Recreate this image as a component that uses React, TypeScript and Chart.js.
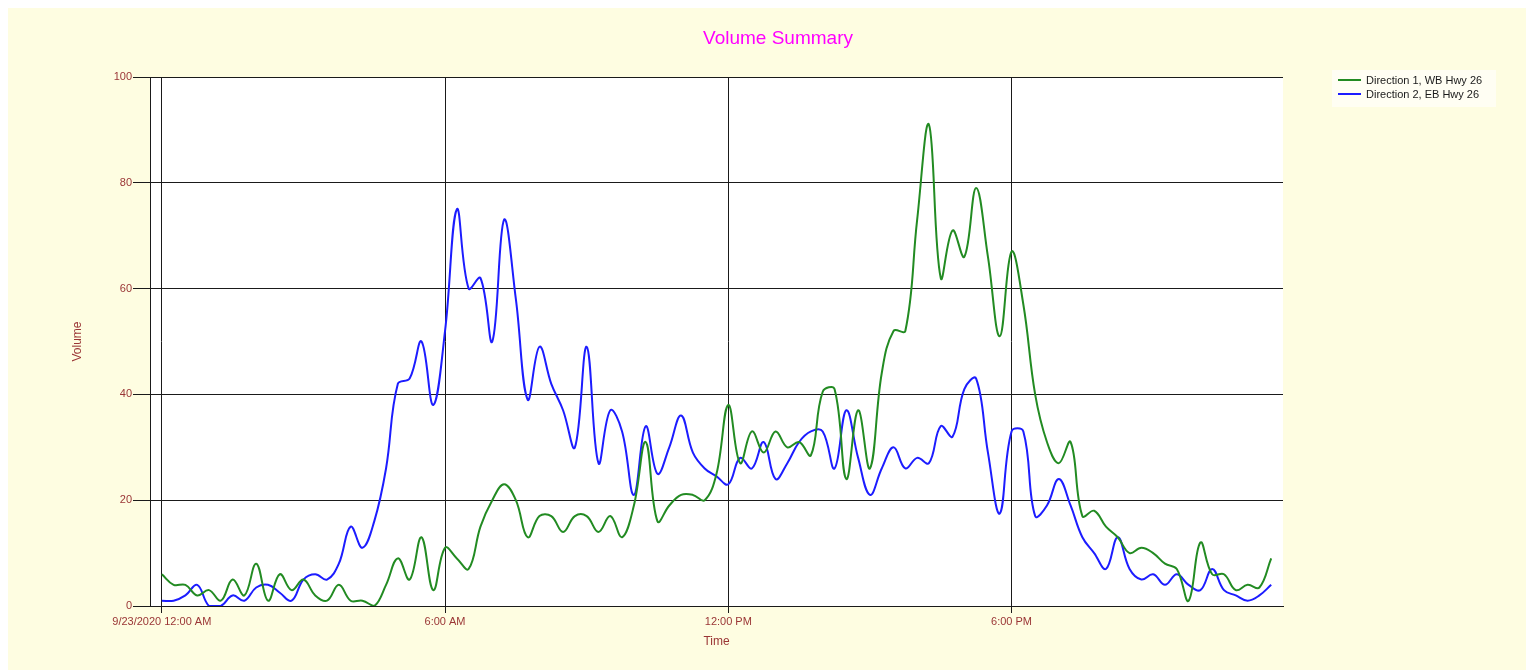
import React, { useEffect, useRef } from "react";
import { Chart, registerables } from "chart.js";

Chart.register(...registerables);

// 15-minute intervals on 9/23/2020
const timeLabels = [
  "00:00","00:15","00:30","00:45","01:00","01:15","01:30","01:45",
  "02:00","02:15","02:30","02:45","03:00","03:15","03:30","03:45",
  "04:00","04:15","04:30","04:45","05:00","05:15","05:30","05:45",
  "06:00","06:15","06:30","06:45","07:00","07:15","07:30","07:45",
  "08:00","08:15","08:30","08:45","09:00","09:15","09:30","09:45",
  "10:00","10:15","10:30","10:45","11:00","11:15","11:30","11:45",
  "12:00","12:15","12:30","12:45","13:00","13:15","13:30","13:45",
  "14:00","14:15","14:30","14:45","15:00","15:15","15:30","15:45",
  "16:00","16:15","16:30","16:45","17:00","17:15","17:30","17:45",
  "18:00","18:15","18:30","18:45","19:00","19:15","19:30","19:45",
  "20:00","20:15","20:30","20:45","21:00","21:15","21:30","21:45",
  "22:00","22:15","22:30","22:45","23:00","23:15","23:30",
];

// Direction 1, WB Hwy 26
const dir1Values = [
  6, 4, 4, 2, 3, 1, 5, 2, 8, 1, 6, 3, 5, 2, 1, 4,
  1, 1, 0, 4, 9, 5, 13, 3, 11, 9, 7, 15, 20, 23, 20, 13,
  17, 17, 14, 17, 17, 14, 17, 13, 19, 31, 16, 19, 21, 21, 20, 25,
  38, 27, 33, 29, 33, 30, 31, 28.5, 40.5, 41, 24, 37, 26, 44, 52, 52,
  73, 91, 62, 71, 66, 79, 66, 51, 67, 57, 40, 31, 27, 31, 17, 18,
  15, 13, 10, 11, 10, 8, 7, 1, 12, 6, 6, 3, 4, 3.5, 9,
];

// Direction 2, EB Hwy 26
const dir2Values = [
  1, 1, 2, 4, 0, 0, 2, 1, 3.5, 4, 2.5, 1, 5, 6, 5, 8,
  15, 11, 16, 26, 42, 43, 50, 38, 52, 75, 60, 62, 50, 73, 58, 39,
  49, 42, 37, 30, 49, 27, 37, 33, 21, 34, 25, 30, 36, 29, 26, 24.5,
  23, 28, 26, 31, 24, 27, 31, 33, 33, 26, 37, 28, 21, 26, 30, 26,
  28, 27, 34, 32, 41, 43, 29, 17.5, 33, 33, 17, 19, 24, 19, 13, 10,
  7, 13, 7, 5, 6, 4, 6, 4, 3, 7, 3, 2, 1, 2, 4,
];

const seriesNames = ["Direction 1, WB Hwy 26", "Direction 2, EB Hwy 26"];
const seriesColors = ["#228B22", "#1C1CFF"];
const xTickValues = [0, 6, 12, 18];
const xTickLabels = ["9/23/2020 12:00 AM", "6:00 AM", "12:00 PM", "6:00 PM"];
const yTickStep = 20;
const chartTitle = "Volume Summary";
const xAxisTitle = "Time";
const yAxisTitle = "Volume";
const footerText = "000";

const FONT = "'Liberation Sans', Arial, sans-serif";
const LABEL_COLOR = "#9A3535";
const GRID_COLOR = "#1a1a1a";
const BG = "#FEFDE1";

const toHours = (t: string) => {
  const [h, m] = t.split(":").map(Number);
  return h + m / 60;
};

const decorPlugin = {
  id: "decor",
  beforeDraw(chart: any) {
    const { ctx, width, height, chartArea } = chart;
    ctx.save();
    ctx.fillStyle = BG;
    ctx.fillRect(0, 0, width, height);
    ctx.fillStyle = "#ffffff";
    ctx.fillRect(chartArea.left, chartArea.top, chartArea.right - chartArea.left, chartArea.bottom - chartArea.top);
    ctx.restore();
  },
  afterDraw(chart: any) {
    const { ctx } = chart;
    ctx.save();
    // title
    ctx.fillStyle = "#FF00FF";
    ctx.font = `19px ${FONT}`;
    ctx.textAlign = "center";
    ctx.textBaseline = "middle";
    ctx.fillText(chartTitle, 770, 31);
    // legend
    ctx.fillStyle = "rgba(255,255,255,0.6)";
    ctx.fillRect(1324, 62, 164, 37);
    ctx.font = `11px ${FONT}`;
    ctx.textAlign = "left";
    ctx.textBaseline = "middle";
    seriesNames.forEach((name, i) => {
      const y = 72 + i * 14;
      ctx.strokeStyle = seriesColors[i];
      ctx.lineWidth = 2;
      ctx.beginPath();
      ctx.moveTo(1330, y);
      ctx.lineTo(1353, y);
      ctx.stroke();
      ctx.fillStyle = "#1a1a1a";
      ctx.fillText(name, 1358, y + 0.5);
    });
    // clipped footer text
    ctx.fillStyle = "#111";
    ctx.font = `bold 20px ${FONT}`;
    ctx.textAlign = "center";
    ctx.textBaseline = "alphabetic";
    ctx.fillText(footerText, 770, 676);
    ctx.restore();
  },
};

export default function App() {
  const canvasRef = useRef<HTMLCanvasElement | null>(null);

  useEffect(() => {
    if (!canvasRef.current) return;
    const xs = timeLabels.map(toHours);
    const chart = new Chart(canvasRef.current, {
      type: "line",
      data: {
        datasets: [dir1Values, dir2Values].map((vals, i) => ({
          label: seriesNames[i],
          data: vals.map((v, j) => ({ x: xs[j], y: v })),
          borderColor: seriesColors[i],
          backgroundColor: seriesColors[i],
          borderWidth: 2,
          pointRadius: 0,
          tension: 0.4,
          fill: false,
        })),
      },
      options: {
        animation: false,
        responsive: false,
        devicePixelRatio: 1,
        layout: { padding: { left: 0, top: 69, right: 251, bottom: 0 } },
        plugins: {
          legend: { display: false },
          title: { display: false },
          tooltip: { enabled: false },
        },
        scales: {
          x: {
            type: "linear",
            min: -0.25,
            max: 23.75,
            afterBuildTicks: (s: any) => {
              s.ticks = xTickValues.map((v) => ({ value: v }));
            },
            afterFit: (s: any) => {
              s.height = 64;
            },
            ticks: {
              autoSkip: false,
              maxRotation: 0,
              padding: 2,
              color: LABEL_COLOR,
              font: { family: FONT, size: 11 },
              callback: (v: any) => {
                const idx = xTickValues.indexOf(Number(v));
                return idx >= 0 ? xTickLabels[idx] : "";
              },
            },
            grid: { color: GRID_COLOR, lineWidth: 1, tickLength: 7, drawTicks: true },
            border: { color: GRID_COLOR, width: 1 },
            title: {
              display: true,
              text: xAxisTitle,
              color: LABEL_COLOR,
              font: { family: FONT, size: 12 },
              padding: { top: 0, bottom: 21 },
            },
          },
          y: {
            min: 0,
            max: 100,
            afterFit: (s: any) => {
              s.width = 142;
            },
            ticks: {
              stepSize: yTickStep,
              padding: 1,
              color: LABEL_COLOR,
              font: { family: FONT, size: 11 },
            },
            grid: { color: GRID_COLOR, lineWidth: 1, tickLength: 17, drawTicks: true },
            border: { color: GRID_COLOR, width: 1 },
            title: {
              display: true,
              text: yAxisTitle,
              color: LABEL_COLOR,
              font: { family: FONT, size: 12 },
              padding: { top: 62, bottom: 0 },
            },
          },
        },
      },
      plugins: [decorPlugin],
    });
    return () => chart.destroy();
  }, []);

  return (
    <div style={{ width: 1526, height: 662, overflow: "hidden" }}>
      <canvas ref={canvasRef} width={1526} height={662} style={{ display: "block", width: 1526, height: 662 }} />
    </div>
  );
}
